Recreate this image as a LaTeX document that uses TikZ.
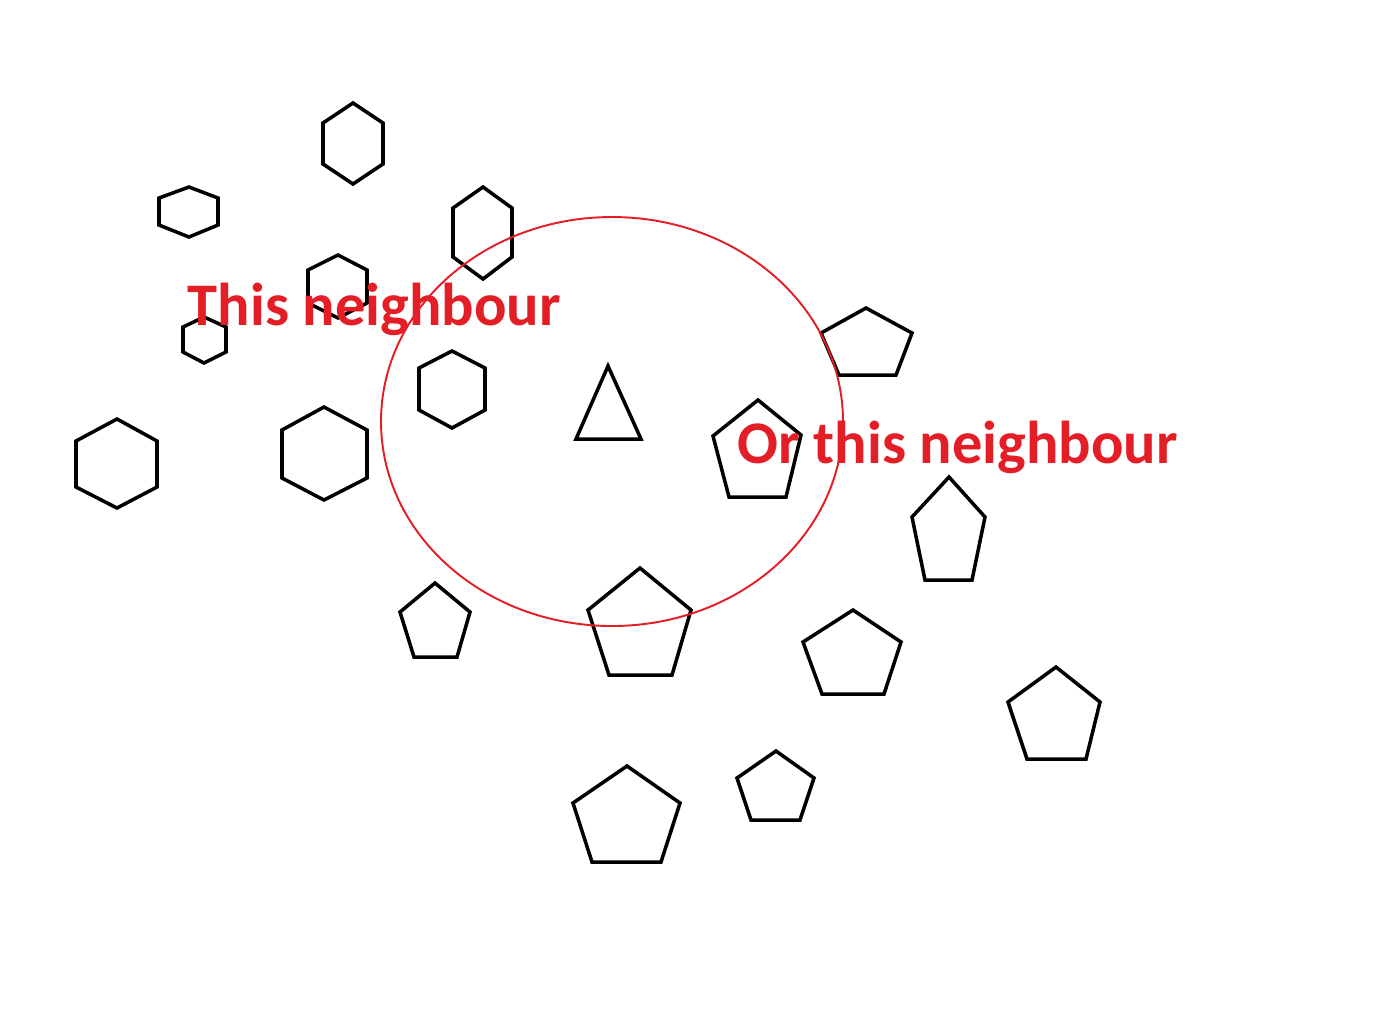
\documentclass[tikz,border=0pt]{standalone}
\usepackage{fontspec}
\setmainfont{Carlito}
\usepackage{xcolor}
\definecolor{lblred}{RGB}{228,30,38}

\begin{document}
\begin{tikzpicture}[x=0.01cm,y=-0.01cm,
    shp/.style={line width=1pt,black,line join=miter},
    lbl/.style={text=lblred,font=\fontsize{17.2}{19}\selectfont\bfseries,inner sep=0pt,anchor=base west}]
      \useasboundingbox (0,0) rectangle (1400,1023);
      % hexagons
      \draw [shp] (353,103) -- (383,123) -- (383,164) -- (353,184) -- (323,164) -- (323,123) -- cycle;
      \draw [shp] (189,187) -- (218,198) -- (218,225) -- (189,237) -- (159,225) -- (159,198) -- cycle;
      \draw [shp] (483,187) -- (512,208) -- (512,257) -- (483,279) -- (453,257) -- (453,208) -- cycle;
      \draw [shp] (338,255) -- (367,270) -- (367,303) -- (338,318) -- (308,303) -- (308,270) -- cycle;
      \draw [shp] (204,317) -- (226,327) -- (226,352) -- (204,363) -- (183,352) -- (183,327) -- cycle;
      \draw [shp] (452,351) -- (485,368) -- (485,410) -- (452,428) -- (419,410) -- (419,368) -- cycle;
      \draw [shp] (117,419) -- (157,441) -- (157,487) -- (117,508) -- (76,487) -- (76,441) -- cycle;
      \draw [shp] (324,407) -- (367,430) -- (367,478) -- (324,500) -- (282,478) -- (282,430) -- cycle;
      % triangle
      \draw [shp] (608,366) -- (641,439) -- (576,439) -- cycle;
      % pentagons
      \draw [shp] (866,308) -- (912,333) -- (896,375) -- (839,375) -- (821,333) -- cycle;
      \draw [shp] (758,400) -- (801,435) -- (786,497) -- (729,497) -- (713,436) -- cycle;
      \draw [shp] (949,477) -- (985,517) -- (972,580) -- (925,580) -- (912,517) -- cycle;
      \draw [shp] (435,583) -- (470,612) -- (457,657) -- (414,657) -- (400,612) -- cycle;
      \draw [shp] (640,568) -- (691,610) -- (672,675) -- (609,675) -- (588,610) -- cycle;
      \draw [shp] (853,610) -- (901,642) -- (884,694) -- (822,694) -- (803,642) -- cycle;
      \draw [shp] (1056,667) -- (1100,702) -- (1086,759) -- (1027,759) -- (1008,702) -- cycle;
      \draw [shp] (627,766) -- (680,803) -- (661,862) -- (592,862) -- (573,803) -- cycle;
      \draw [shp] (776,751) -- (814,778) -- (800,820) -- (751,820) -- (737,778) -- cycle;
      % labels
      \node [lbl] (this) at (187,325) {This neighbour};
      \node [lbl] (other) at (737,463) {Or this neighbour};
      % neighbourhood
      \draw [lblred,line width=0.55pt] (612,421.5) ellipse [x radius=231, y radius=204.5];
    \end{tikzpicture}
\end{document}
